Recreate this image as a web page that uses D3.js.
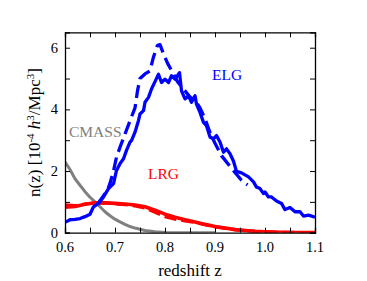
<!DOCTYPE html>
<html>
<head>
<meta charset="utf-8">
<script src="https://cdn.jsdelivr.net/npm/d3@7"></script>
<style>
  body { margin: 0; background: #fff; }
  text { font-family: "Liberation Serif", "Times New Roman", serif; }
</style>
</head>
<body>
<svg id="chart" width="367" height="281"></svg>
<script>
// n(z) of the target samples
const xTicks = [0.6, 0.7, 0.8, 0.9, 1.0, 1.1];
const yTicks = [0, 2, 4, 6];

const elgSolid = [
  [0.600,0.35],[0.603,0.36],[0.610,0.42],[0.620,0.43],[0.630,0.46],[0.640,0.52],[0.650,0.60],
  [0.657,0.84],[0.667,0.95],[0.677,1.16],[0.687,1.43],[0.697,1.59],[0.703,2.02],[0.710,2.24],
  [0.717,2.40],[0.723,2.67],[0.730,2.94],[0.733,2.99],[0.740,3.26],[0.747,3.64],[0.750,3.85],
  [0.757,3.96],[0.760,4.23],[0.767,4.39],[0.773,4.66],[0.780,4.90],[0.787,5.14],[0.793,4.87],
  [0.800,4.98],[0.807,4.87],[0.813,5.09],[0.820,4.98],[0.829,5.19],[0.833,4.60],[0.840,4.34],
  [0.847,4.44],[0.853,4.23],[0.860,4.44],[0.863,4.17],[0.870,3.90],[0.877,3.58],[0.883,3.47],
  [0.890,3.10],[0.897,3.05],[0.903,3.15],[0.910,2.94],[0.917,2.61],[0.923,2.72],[0.930,2.56],
  [0.937,2.32],[0.943,1.99],[0.953,1.94],[0.967,1.81],[0.977,1.65],[0.983,1.48],[0.990,1.43],
  [0.997,1.27],[1.000,1.32],[1.007,1.16],[1.013,1.16],[1.023,1.03],[1.033,0.95],[1.040,0.75],
  [1.050,0.82],[1.060,0.68],[1.070,0.68],[1.077,0.54],[1.087,0.57],[1.100,0.50]
];
const elgDashed = [
  [0.665,0.93],[0.675,1.15],[0.685,1.38],[0.690,1.60],[0.697,2.00],[0.703,2.45],[0.710,2.77],
  [0.720,3.20],[0.730,3.63],[0.740,4.05],[0.745,4.60],[0.750,5.00],[0.760,5.15],[0.770,5.25],
  [0.777,5.70],[0.785,6.08],[0.790,6.10],[0.797,5.80],[0.805,5.50],[0.815,5.20],[0.825,4.90],
  [0.837,4.66],[0.850,4.40],[0.860,4.30],[0.870,4.05],[0.880,3.70],[0.890,3.25],[0.900,2.90],
  [0.913,2.50],[0.925,2.25],[0.940,1.95],[0.953,1.70],[0.965,1.55]
];
const cmass = [
  [0.60,2.30],[0.61,2.05],[0.62,1.75],[0.63,1.54],[0.64,1.33],[0.65,1.15],[0.66,1.00],
  [0.67,0.84],[0.68,0.68],[0.69,0.55],[0.70,0.44],[0.71,0.35],[0.72,0.27],[0.73,0.20],
  [0.74,0.15],[0.75,0.11],[0.76,0.07],[0.78,0.03],[0.80,0.01],[0.84,0.0],[0.90,0.0]
];
const lrgSolid = [
  [0.60,0.83],[0.62,0.85],[0.64,0.92],[0.66,0.97],[0.68,0.97],[0.70,0.95],[0.72,0.93],
  [0.74,0.90],[0.76,0.84],[0.78,0.73],[0.80,0.60],[0.82,0.50],[0.84,0.42],[0.86,0.35],
  [0.88,0.27],[0.90,0.20],[0.92,0.15],[0.94,0.10],[0.96,0.07],[0.98,0.045],[1.00,0.03],
  [1.03,0.015],[1.06,0.008],[1.10,0.003]
];
const lrgDashed = [
  [0.60,0.90],[0.62,0.88],[0.64,0.93],[0.66,0.96],[0.68,0.96],[0.70,0.94],[0.72,0.91],
  [0.74,0.87],[0.76,0.80],[0.78,0.66],[0.80,0.52],[0.82,0.44],[0.84,0.38],[0.86,0.33],
  [0.88,0.26],[0.90,0.19],[0.92,0.14],[0.94,0.10],[0.96,0.07],[0.98,0.045],[1.00,0.03],
  [1.03,0.015],[1.06,0.008],[1.10,0.003]
];

const labels = [
  {text: 'ELG', z: 0.894, v: 4.95, color: '#0000ff'},
  {text: 'CMASS', z: 0.608, v: 3.1, color: '#808080'},
  {text: 'LRG', z: 0.766, v: 1.73, color: '#ff0000'}
];

const svg = d3.select('#chart');
const margin = {top: 32.3, right: 52, bottom: 48.3, left: 65};
const W = 367, H = 281;

const x = d3.scaleLinear().domain([0.6, 1.1]).range([margin.left, W - margin.right]);
const y = d3.scaleLinear().domain([0, 6.5]).range([H - margin.bottom, margin.top]);

svg.append('clipPath').attr('id', 'clip')
  .append('rect')
  .attr('x', x(0.6)).attr('y', y(6.5))
  .attr('width', x(1.1) - x(0.6)).attr('height', y(0) - y(6.5));

const line = d3.line().x(d => x(d[0])).y(d => y(d[1]));

const g = svg.append('g').attr('clip-path', 'url(#clip)');

function draw(data, color, width, dash) {
  g.append('path').datum(data)
    .attr('fill', 'none')
    .attr('stroke', color)
    .attr('stroke-width', width)
    .attr('stroke-linejoin', 'round')
    .attr('stroke-dasharray', dash || null)
    .attr('d', line);
}

draw(cmass, '#808080', 3);
draw(lrgDashed, '#ff0000', 3.2, '12,5');
draw(lrgSolid, '#ff0000', 3.6);
draw(elgDashed, '#0000ff', 3.3, '13,6');
draw(elgSolid, '#0000ff', 3.3);

// axes with inward ticks on all four sides
const minorX = d3.range(0.6, 1.1001, 0.05);
const minorY = d3.range(0, 6.5, 1);

svg.append('g').attr('transform', `translate(0,${y(0)})`)
  .call(d3.axisBottom(x).tickValues(minorX).tickSize(-5).tickFormat(''));
svg.append('g').attr('transform', `translate(0,${y(6.5)})`)
  .call(d3.axisTop(x).tickValues(minorX).tickSize(-5).tickFormat(''));
svg.append('g').attr('transform', `translate(${x(0.6)},0)`)
  .call(d3.axisLeft(y).tickValues(minorY).tickSize(-5).tickFormat(''));
svg.append('g').attr('transform', `translate(${x(1.1)},0)`)
  .call(d3.axisRight(y).tickValues(minorY).tickSize(-5).tickFormat(''));

svg.selectAll('.domain').attr('stroke', '#000').attr('stroke-width', 1.3);
svg.selectAll('.tick line').attr('stroke', '#000').attr('stroke-width', 1);

svg.append('g').selectAll('text').data(xTicks).join('text')
  .attr('x', d => x(d)).attr('y', y(0) + 19)
  .attr('text-anchor', 'middle')
  .attr('font-size', 14.5)
  .text(d => d.toFixed(1));

svg.append('g').selectAll('text').data(yTicks).join('text')
  .attr('x', x(0.6) - 7).attr('y', d => y(d) + 5)
  .attr('text-anchor', 'end')
  .attr('font-size', 14.5)
  .text(d => d);

svg.append('text')
  .attr('x', (x(0.6) + x(1.1)) / 2).attr('y', 276)
  .attr('text-anchor', 'middle')
  .attr('font-size', 17)
  .text('redshift z');

const yl = svg.append('text')
  .attr('transform', `translate(40,${(y(0) + y(6.5)) / 2}) rotate(-90)`)
  .attr('text-anchor', 'middle')
  .attr('font-size', 17);
yl.append('tspan').text('n(z) [10');
yl.append('tspan').attr('dy', -6).attr('font-size', 11).text('-4');
yl.append('tspan').attr('dy', 6).text(' ');
yl.append('tspan').attr('font-style', 'italic').text('h');
yl.append('tspan').attr('dy', -6).attr('font-size', 11).text('3');
yl.append('tspan').attr('dy', 6).text('/Mpc');
yl.append('tspan').attr('dy', -6).attr('font-size', 11).text('3');
yl.append('tspan').attr('dy', 6).text(']');

svg.append('g').selectAll('text').data(labels).join('text')
  .attr('x', d => x(d.z)).attr('y', d => y(d.v))
  .attr('fill', d => d.color)
  .attr('font-size', 15.5)
  .text(d => d.text);
</script>
</body>
</html>
